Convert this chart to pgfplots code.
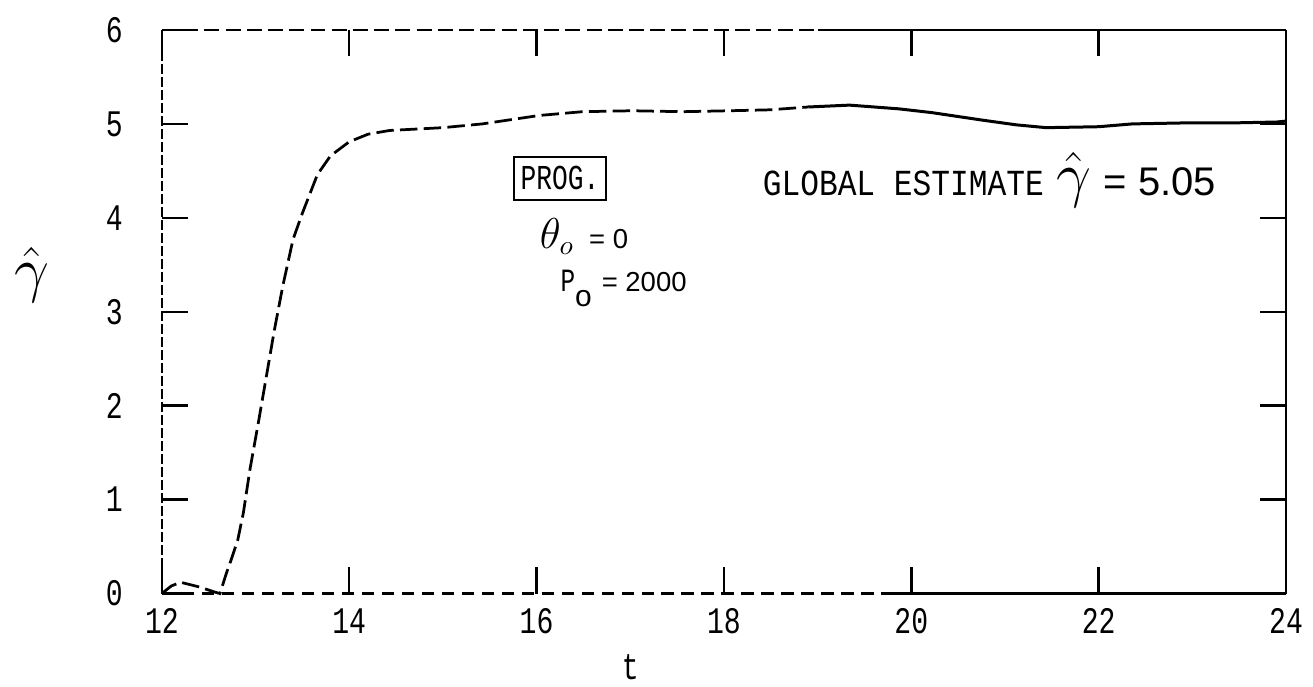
\documentclass[border=0pt]{standalone}
\usepackage{fontspec}
\usepackage{pgfplots}
\pgfplotsset{compat=1.18}
\setmainfont{Liberation Mono}
\newfontfamily\twf[FakeStretch=0.75]{Liberation Mono}
\newfontfamily\gwf[FakeStretch=0.85]{Liberation Mono}
\newfontfamily\sansf{Liberation Sans}

\pgfplotstableread{
t y
12.00 0.00
12.10 0.08
12.20 0.12
12.40 0.07
12.55 0.02
12.62 0.00
12.69 0.22
12.74 0.36
12.81 0.57
12.87 0.86
12.94 1.32
13.03 1.82
13.11 2.28
13.20 2.80
13.29 3.27
13.40 3.77
13.50 4.05
13.66 4.46
13.80 4.66
14.00 4.81
14.20 4.89
14.43 4.93
15.00 4.96
15.42 5.00
16.03 5.09
16.49 5.13
17.02 5.14
17.56 5.13
18.06 5.14
18.49 5.15
18.90 5.18
}\dashedpart

\pgfplotstableread{
t y
18.90 5.18
19.34 5.20
19.87 5.16
20.22 5.12
20.76 5.04
21.12 4.99
21.44 4.96
22.00 4.97
22.36 5.00
22.89 5.01
23.40 5.01
23.90 5.02
24.00 5.03
}\solidpart

\begin{document}
\begin{tikzpicture}
\begin{axis}[
  at={(0,0)}, anchor=south west,
  width=450pt, height=225.6pt, scale only axis,
  xmin=12, xmax=24, ymin=0, ymax=6,
  xtick={12,14,...,24}, xticklabels={12,14,16,18,20,22,24},
  ytick={0,1,...,6}, yticklabels={0,1,2,3,4,5,6},
  tick align=inside, major tick length=10.5pt,
  tick style={line width=1pt, black},
  axis line style={draw=none},
  xticklabel style={font={\twf\fontsize{15}{15}\selectfont}, anchor=center, yshift=-11pt},
  yticklabel style={font={\twf\fontsize{15}{15}\selectfont}, anchor=center, xshift=-19pt},
  clip=false,
]
% frame
\draw[line width=0.9pt, dash pattern=on 4pt off 1.2pt] (axis cs:12,0) -- (axis cs:12,6);
\draw[line width=0.9pt] (axis cs:24,0) -- (axis cs:24,6);
\draw[line width=0.9pt, dash pattern=on 6pt off 2.5pt] (axis cs:12,6) -- (axis cs:19,6);
\draw[line width=0.9pt] (axis cs:19,6) -- (axis cs:24,6);
\draw[line width=0.9pt, dash pattern=on 5pt off 3pt] (axis cs:12,0) -- (axis cs:19.8,0);
\draw[line width=0.9pt] (axis cs:19.8,0) -- (axis cs:24,0);

\addplot[black, line width=1.1pt, dash pattern=on 7pt off 2.5pt] table[x=t,y=y]{\dashedpart};
\addplot[black, line width=1.2pt] table[x=t,y=y]{\solidpart};

% annotations
\node[draw, line width=0.8pt, inner sep=2.5pt, minimum height=17pt, font={\twf\fontsize{14}{14}\selectfont}] at (axis cs:16.25,4.42) {PROG.};
\node[anchor=west, inner sep=0pt] at (axis cs:18.41,4.40) {{\gwf\fontsize{14.7}{14.7}\selectfont GLOBAL ESTIMATE}\hspace{5pt}{\fontsize{26}{26}\selectfont$\hat{\gamma}$}\hspace{5pt}{\sansf\fontsize{16}{16}\selectfont = 5.05}};
\node[anchor=west, inner sep=0pt] at (axis cs:16.03,3.80) {{\fontsize{16}{16}\selectfont$\theta_{o}$}\hspace{6pt}{\sansf\fontsize{11}{11}\selectfont = 0}};
\node[anchor=west, inner sep=0pt] at (axis cs:16.25,3.25) {{\twf\fontsize{13}{13}\selectfont P}\raisebox{-6pt}{\sansf\fontsize{12}{12}\selectfont o}\hspace{4pt}{\sansf\fontsize{11}{11}\selectfont = 2000}};

% axis labels
\node at (rel axis cs:0,0.565) [xshift=-52pt] {\fontsize{30}{30}\selectfont$\hat{\gamma}$};
\node at (axis cs:17.0,0) [yshift=-29.6pt] {\twf\fontsize{15}{15}\selectfont t};
\end{axis}
\pgfresetboundingbox
\path (-64.8pt,-37.2pt) rectangle (460.8pt,237.6pt);
\end{tikzpicture}
\end{document}
